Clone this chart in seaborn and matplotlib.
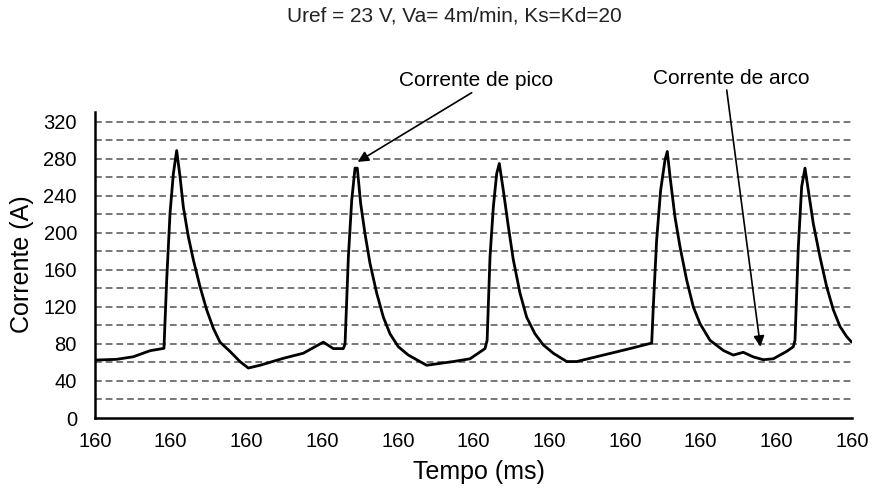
import matplotlib
matplotlib.use("Agg")
import matplotlib.pyplot as plt
import seaborn as sns
import pandas as pd

# ---- data ----
tempo = [0.000, 0.286, 0.506, 0.727, 0.911, 0.947, 0.991, 1.035, 1.079,
         1.123, 1.167, 1.233, 1.299, 1.387, 1.475, 1.563, 1.651, 1.783, 1.915,
         2.025, 2.180, 2.488, 2.752, 3.016, 3.148, 3.280,
         3.303, 3.347, 3.391, 3.435, 3.465, 3.509, 3.567, 3.633, 3.721, 3.809,
         3.897, 4.007, 4.139, 4.249, 4.381, 4.733, 4.954, 5.152,
         5.180, 5.218, 5.262, 5.306, 5.341, 5.394, 5.460, 5.526, 5.614, 5.702,
         5.812, 5.922, 6.054, 6.231, 6.363, 6.715, 7.067, 7.354,
         7.375, 7.419, 7.472, 7.530, 7.560, 7.596, 7.662, 7.728, 7.816, 7.904,
         7.992, 8.124, 8.300, 8.432, 8.564, 8.696, 8.829, 8.961, 9.137, 9.225,
         9.247, 9.291, 9.335, 9.379, 9.423, 9.489, 9.577, 9.665, 9.753, 9.841,
         9.929, 9.995]
corrente = [62.6, 63.4, 66.2, 72.7, 75.3, 149, 221, 264, 289,
            261, 228, 196, 171, 142, 117, 97, 82, 72, 61,
            54, 57, 64.5, 70, 82, 75, 75,
            80, 174, 235, 270, 270, 232, 199, 167, 135, 109,
            91, 77, 68, 63, 57, 61, 64, 75,
            84, 174, 228, 264, 275, 246, 207, 171, 135, 109,
            91, 79, 70, 61, 61, 68, 75, 81,
            120, 192, 246, 279, 288, 261, 217, 185, 149, 120,
            102, 84, 73, 68, 71, 66, 63, 64, 72, 77,
            84, 185, 250, 270, 246, 210, 174, 142, 117, 99,
            88, 82]
x_ticks = list(range(11))
x_tick_labels = ["160"] * 11
y_ticks = [0, 40, 80, 120, 160, 200, 240, 280, 320]
y_grid = list(range(20, 321, 20))

title = "Uref = 23 V, Va= 4m/min, Ks=Kd=20"
ann_pico = "Corrente de pico"
ann_arco = "Corrente de arco"

df = pd.DataFrame({"Tempo": tempo, "Corrente": corrente})

sns.set_style("white")
plt.rcParams["font.family"] = ["Liberation Sans", "DejaVu Sans"]
plt.rcParams["text.color"] = "black"
plt.rcParams["axes.labelcolor"] = "black"
plt.rcParams["xtick.color"] = "black"
plt.rcParams["ytick.color"] = "black"

W, H = 872, 500
fig = plt.figure(figsize=(W / 100, H / 100), dpi=100)
ax = fig.add_axes([95 / W, 1 - 418 / H, 757 / W, 306.3 / H])

for g in y_grid:
    ax.axhline(g, color="#777777", lw=1.4, ls=(0, (3.5, 2)), zorder=1)

sns.lineplot(data=df, x="Tempo", y="Corrente", ax=ax, color="black", lw=2.0,
             sort=False, estimator=None, zorder=3)

ax.set_xlim(0, 10)
ax.set_ylim(0, 331)
ax.set_xticks(x_ticks)
ax.set_xticklabels(x_tick_labels)
ax.set_yticks(y_ticks)
ax.tick_params(axis="both", labelsize=14.5, colors="black", width=1.5, length=4,
               direction="out")
ax.tick_params(axis="x", pad=6)
ax.tick_params(axis="y", pad=9)

for s in ["top", "right"]:
    ax.spines[s].set_visible(False)
for s in ["left", "bottom"]:
    ax.spines[s].set_color("black")
    ax.spines[s].set_linewidth(1.8)

ax.set_xlabel("Tempo (ms)", fontsize=18, color="black")
ax.set_ylabel("Corrente (A)", fontsize=18, color="black")
ax.xaxis.set_label_coords((479 - 95) / 757, (418 - 460) / 306.3)
ax.yaxis.set_label_coords((34 - 95) / 757, (418 - 264) / 306.3)

fig.text(454 / W, 1 - 16 / H, title, ha="center", va="center", fontsize=15,
         color="#222222")

fig.text(476 / W, 1 - 80 / H, ann_pico, ha="center", va="center", fontsize=15,
         color="black")
fig.text(731 / W, 1 - 78 / H, ann_arco, ha="center", va="center", fontsize=15,
         color="black")

arrow = dict(arrowstyle="-|>", color="black", lw=1.2, mutation_scale=16,
             shrinkA=0, shrinkB=0)
ax.annotate("", xy=(3.47, 276.8), xycoords="data",
            xytext=(471.7, H - 92.7), textcoords="figure pixels", arrowprops=arrow)
ax.annotate("", xy=(8.79, 77), xycoords="data",
            xytext=(726.7, H - 90), textcoords="figure pixels", arrowprops=arrow)

fig.savefig("out.png", dpi=100)
